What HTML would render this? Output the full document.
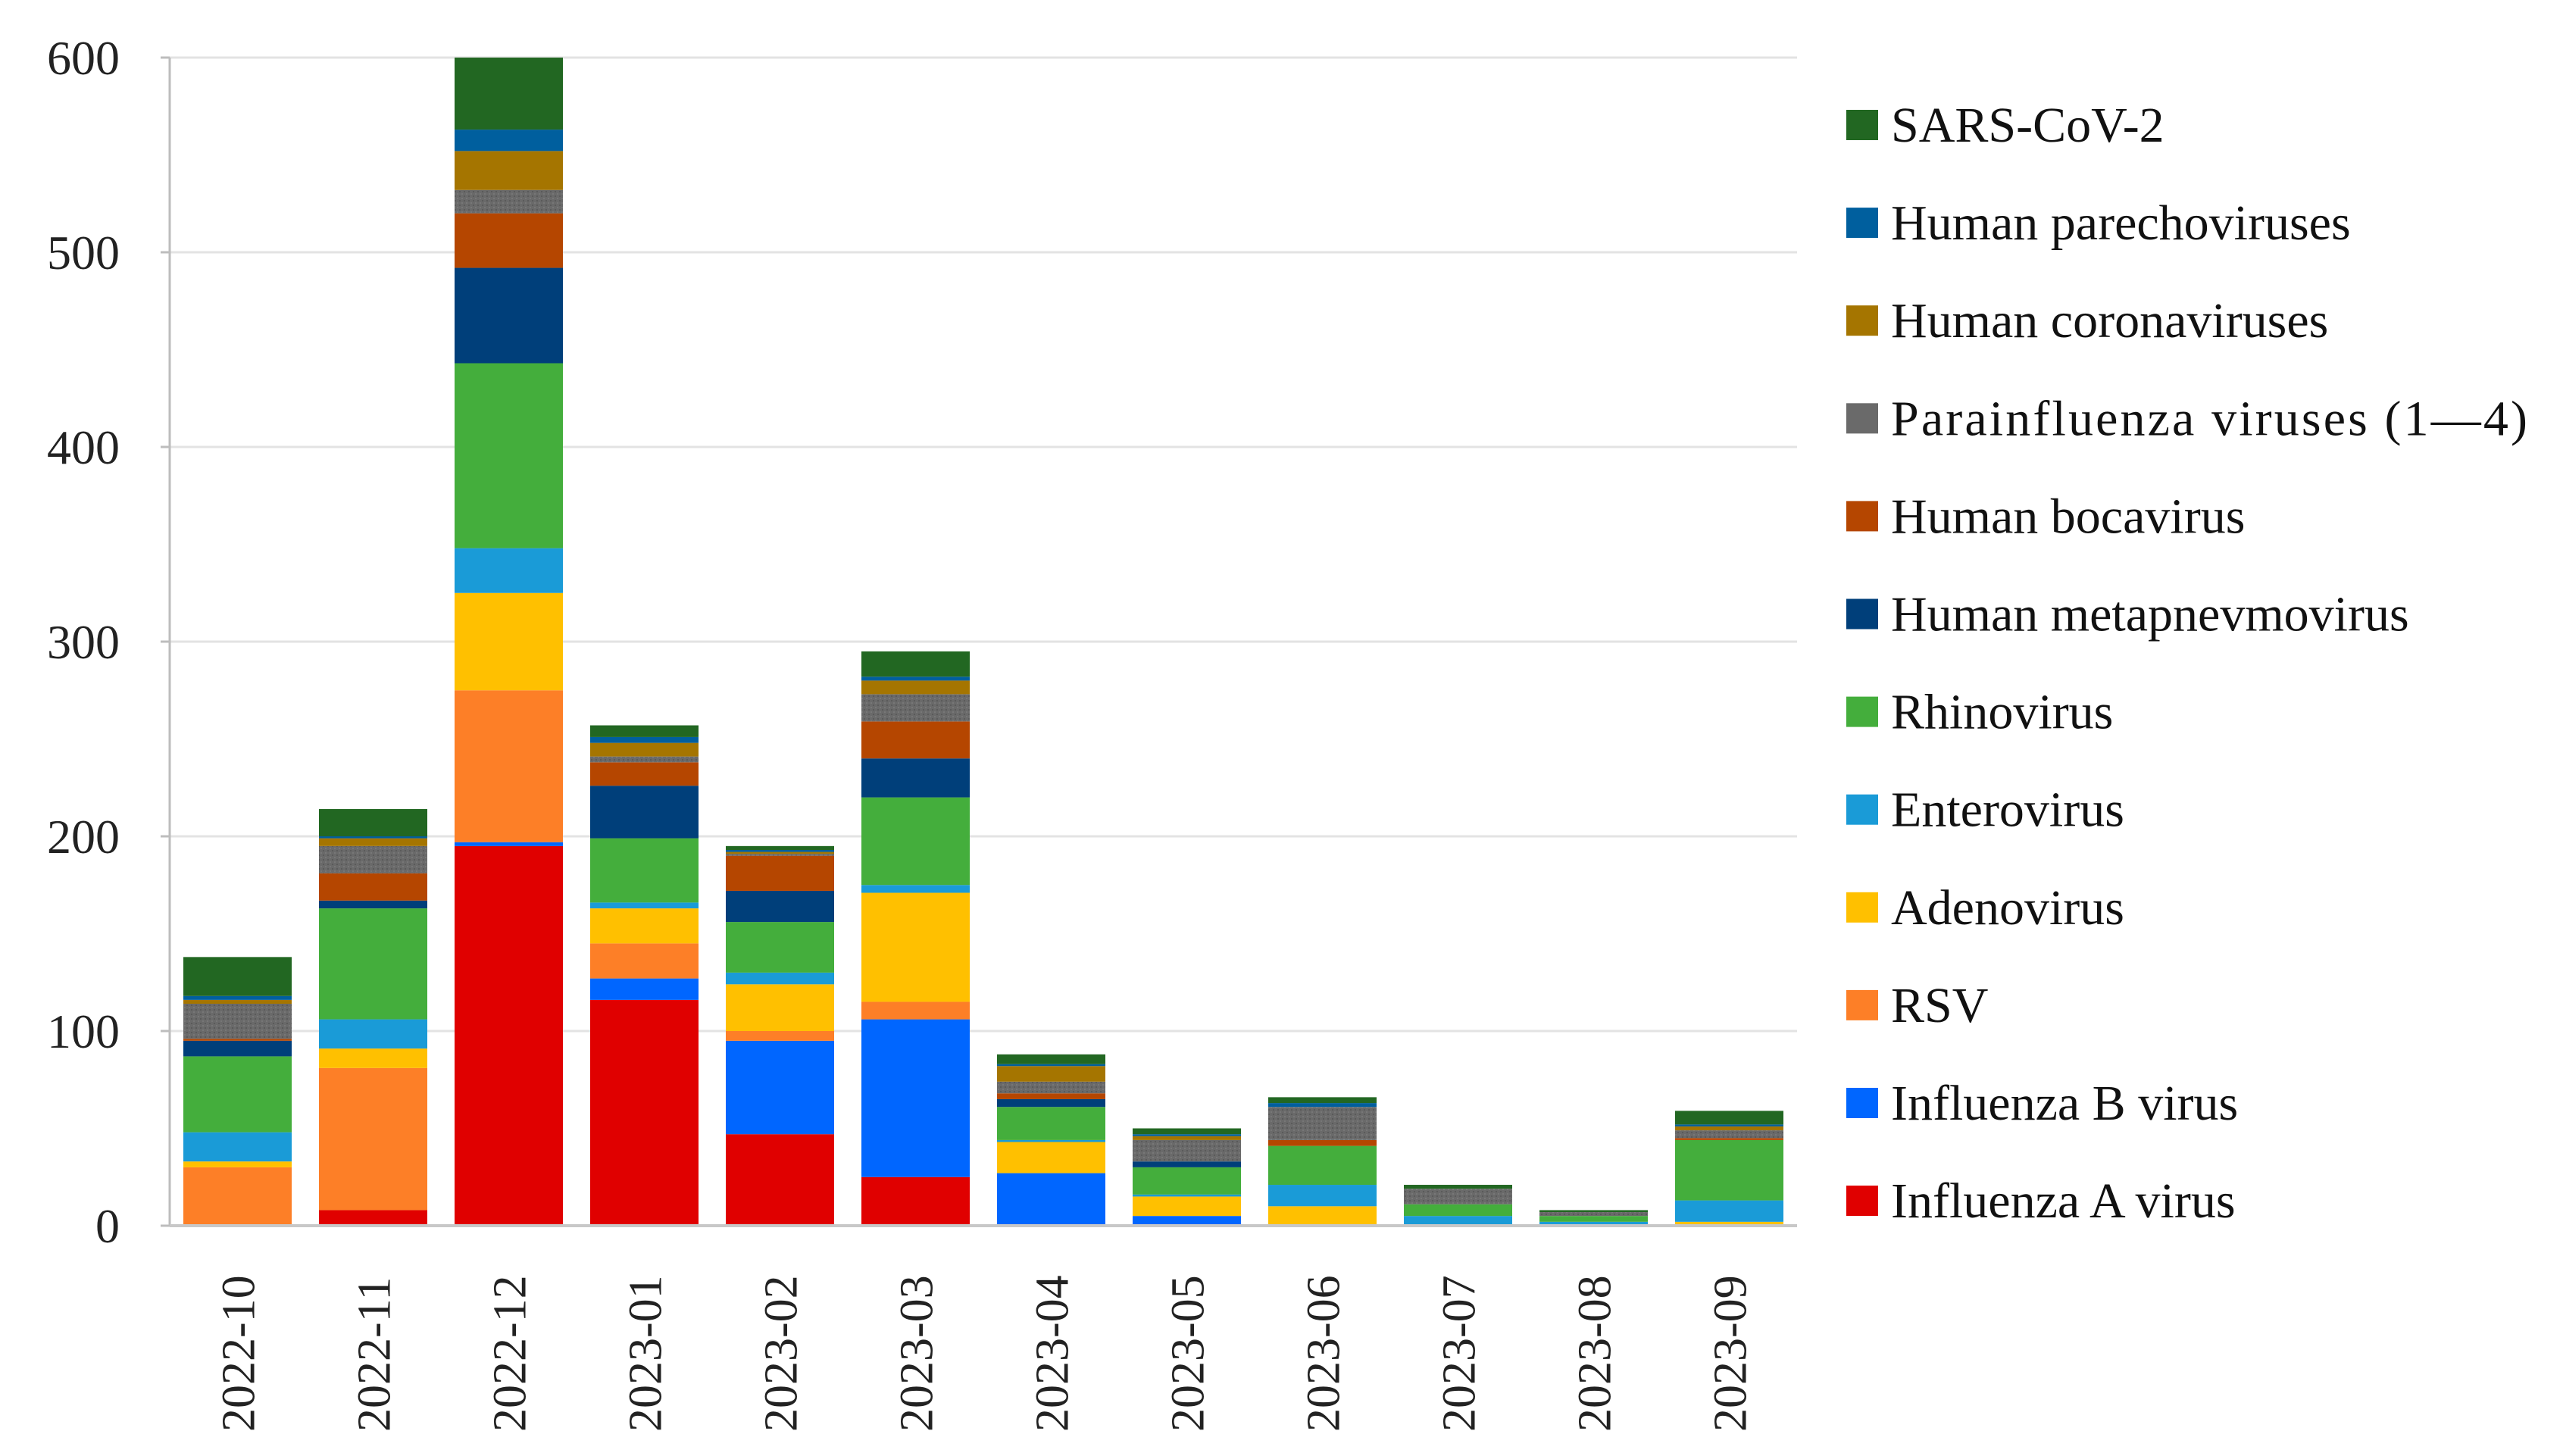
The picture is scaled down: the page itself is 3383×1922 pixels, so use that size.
<!DOCTYPE html>
<html><head><meta charset="utf-8">
<style>html,body{margin:0;padding:0;background:#fff}svg{display:block}</style>
</head><body>
<svg id="chart" width="3383" height="1922" viewBox="0 0 3383 1922" xmlns="http://www.w3.org/2000/svg">
<defs>
<pattern id="dots" width="6" height="6" patternUnits="userSpaceOnUse">
<rect width="6" height="6" fill="#6a6a6a"/><rect width="2" height="2" fill="#5a5a5a"/><rect x="3" y="3" width="2" height="2" fill="#777"/>
</pattern>
</defs>
<g id="grid"></g>
<g id="bars"></g>
<g id="axes"></g>
<g id="legend"></g>
</svg>
<script>
const categories = ["2022-10","2022-11","2022-12","2023-01","2023-02","2023-03","2023-04","2023-05","2023-06","2023-07","2023-08","2023-09"];
const seriesNames = ["Influenza A virus","Influenza B virus","RSV","Adenovirus","Enterovirus","Rhinovirus","Human metapnevmovirus","Human bocavirus","Parainfluenza viruses (1\u20144)","Human coronaviruses","Human parechoviruses","SARS-CoV-2"];
const fluA    = [0,8,195,116,47,25,0,0,0,0,0,0];
const fluB    = [0,0,2,11,48,81,27,5,0,0,0,0];
const rsv     = [30,73,78,18,5,9,0,0,0,0,0,0];
const adeno   = [3,10,50,18,24,56,16,10,10,0,0,2];
const entero  = [15,15,23,3,6,4,1,1,11,5,2,11];
const rhino   = [39,57,95,33,26,45,17,14,20,6,3,31];
const meta    = [8,4,49,27,16,20,4,3,0,0,0,0];
const boca    = [1,14,28,12,18,19,3,0,3,0,0,1];
const para    = [18,14,12,3,1,14,6,11,17,8,2,4];
const corona  = [2,4,20,7,1,7,8,2,0,0,0,2];
const parecho = [2,1,11,3,1,2,1,1,2,0,0,1];
const sars    = [20,14,37,6,2,13,5,3,3,2,1,7];
const yTicks  = [0,100,200,300,400,500,600];
const colors = ["#e00000","#0066ff","#fd7f27","#ffc000","#1a9bd7","#44ae3c","#003f7a","#b54600","url(#dots)","#a57500","#005f9e","#226722"];
const legendColors = ["#e00000","#0066ff","#fd7f27","#ffc000","#1a9bd7","#44ae3c","#003f7a","#b54600","#6a6a6a","#a57500","#005f9e","#226722"];
const series = [fluA,fluB,rsv,adeno,entero,rhino,meta,boca,para,corona,parecho,sars];

const NS="http://www.w3.org/2000/svg";
const X0=224, X1=2372, Y0=1618, Y600=76;
const yS=v=>Y0-(v/600)*(Y0-Y600);
const band=179, bw=143;
const xC=i=>X0+band*(i+0.5);
function mk(tag,attrs,parent){const e=document.createElementNS(NS,tag);for(const k in attrs)e.setAttribute(k,attrs[k]);parent.appendChild(e);return e;}
const grid=document.getElementById('grid'),bars=document.getElementById('bars'),axes=document.getElementById('axes'),legend=document.getElementById('legend');

yTicks.forEach(t=>{
  const y=yS(t);
  if(t>0){const l=mk('line',{x1:X0,x2:X1,y1:y,y2:y,stroke:'#e3e3e3','stroke-width':3},grid);
  
  }
  const tk=mk('line',{x1:X0-12,x2:X0,y1:y,y2:y,stroke:'#bdbdbd','stroke-width':3},axes);
  
  
  const tx=mk('text',{x:158,y:y+22,'text-anchor':'end','font-family':'"Liberation Serif", serif','font-size':64,fill:'#222'},axes);
  tx.textContent=t;
  
  
});
const ya=mk('line',{x1:X0,x2:X0,y1:Y600,y2:Y0,stroke:'#bdbdbd','stroke-width':3},axes);


const xa=mk('line',{x1:X0,x2:X1,y1:Y0,y2:Y0,stroke:'#c8c8c8','stroke-width':4},axes);



categories.forEach((c,i)=>{
  let acc=0;
  series.forEach((s,j)=>{
    const v=s[i]; if(!v){return;}
    const yt=yS(acc+v), yb=yS(acc);
    const r=mk('rect',{x:xC(i)-bw/2,y:yt,width:bw,height:yb-yt,fill:colors[j]},bars);
    
    
    acc+=v;
  });
  const tx=mk('text',{transform:`translate(${xC(i)+22},1890) rotate(-90)`,'font-family':'"Liberation Serif", serif','font-size':62,fill:'#222'},axes);
  tx.textContent=c;
  
  
});

for(let k=0;k<seriesNames.length;k++){
  const j=seriesNames.length-1-k;
  const y=165+129.1*k;
  const g=mk('g',{},legend);
  
  
  mk('rect',{x:2437,y:y-20,width:42,height:40,fill:legendColors[j]},g);
  const t=mk('text',{x:2496,y:y+22,'font-family':'"Liberation Serif", serif','font-size':66,fill:'#111'},g);
  t.textContent=seriesNames[j];
  if(j===8){t.setAttribute('textLength',840);}
}
</script>
</body></html>
